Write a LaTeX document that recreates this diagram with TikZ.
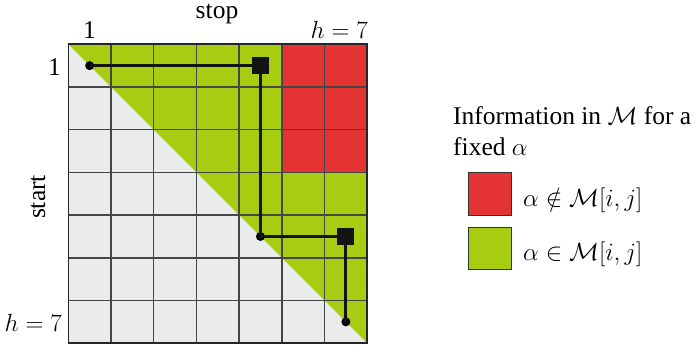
\documentclass[tikz,border=0pt]{standalone}
\usepackage{fontspec}
\setmainfont{Liberation Serif}
\definecolor{mygreen}{RGB}{168,204,18}
\definecolor{myred}{RGB}{227,51,51}
\definecolor{gridgray}{RGB}{235,235,235}
\definecolor{linegray}{RGB}{70,70,70}
\tikzset{
  dotnode/.style={circle, fill=black, inner sep=0pt, minimum size=9pt},
  sqnode/.style={rectangle, fill=black!92, inner sep=0pt, minimum size=17pt},
  pathline/.style={line width=3.2pt, black!92},
  gridline/.style={line width=1.4pt, linegray},
  legbox/.style={draw=black!80, line width=1pt},
  lbl/.style={inner sep=0pt}
}
\begin{document}
\begin{tikzpicture}[x=1pt,y=-1pt, font=\fontsize{25.5}{30}\selectfont]
\useasboundingbox (0,0) rectangle (700,347);
\begin{scope}[shift={(68.3,44.3)}, x=42.7pt, y=-42.7pt]
  \fill[gridgray] (0,0) rectangle (7,7);
  \fill[mygreen] (0,0) -- (7,0) -- (7,7) -- cycle;
  \fill[myred] (5,0) rectangle (7,3);
  \foreach \k in {1,...,6} {
    \draw[gridline] (\k,0) -- (\k,7);
    \draw[gridline] (0,\k) -- (7,\k);
  }
  \draw[line width=1.6pt, black!85] (0,0) rectangle (7,7);
  \node[dotnode] (d1) at (0.5,0.5) {};
  \node[sqnode] (s1) at (4.5,0.5) {};
  \node[dotnode] (d2) at (4.5,4.5) {};
  \node[sqnode] (s2) at (6.5,4.5) {};
  \node[dotnode] (d3) at (6.5,6.5) {};
  \draw[pathline] (d1.center) -- (s1.center) -- (d2.center) -- (s2.center) -- (d3.center);
\end{scope}
% axis labels
\node[lbl, anchor=base] (stop) at (217,18.5) {stop};
\node[lbl, anchor=base] (top1) at (89.6,38.3) {1};
\node[lbl, anchor=base east] (toph) at (368,38.3) {$h=7$};
\node[lbl, anchor=base east] (left1) at (61,76) {1};
\node[lbl, anchor=base east] (lefth) at (62,331) {$h=7$};
\node[lbl, rotate=90] (start) at (38,197) {start};
% legend
\node[lbl, anchor=base west] (leg1) at (453,125) {Information in $\mathcal{M}$ for a};
\node[lbl, anchor=base west] (leg2) at (453,156) {fixed $\alpha$};
\draw[legbox, fill=myred] (468,173) rectangle (511,215);
\draw[legbox, fill=mygreen] (468,227) rectangle (511,269);
\node[lbl, anchor=base west] (legr) at (523,206) {$\alpha\notin\mathcal{M}[i,j]$};
\node[lbl, anchor=base west] (legg) at (523,260) {$\alpha\in\mathcal{M}[i,j]$};
\end{tikzpicture}
\end{document}
